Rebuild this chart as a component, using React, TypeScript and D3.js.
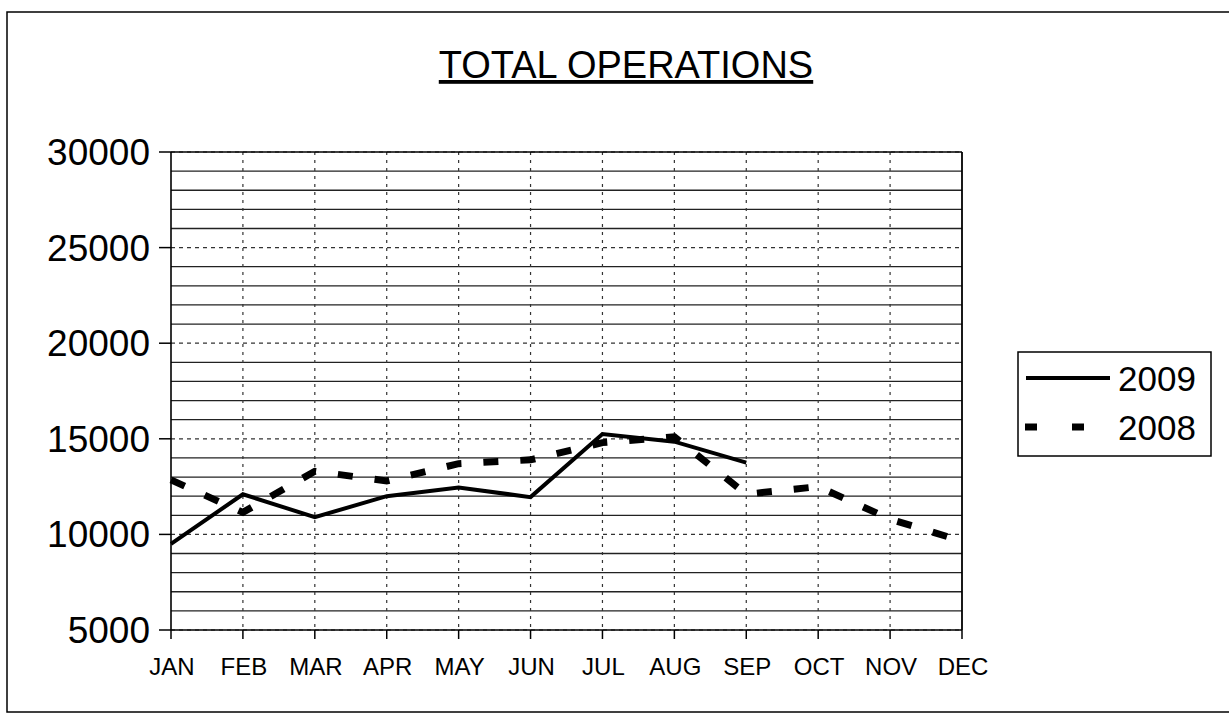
import React from "react";
import * as d3 from "d3";

const months = ["JAN", "FEB", "MAR", "APR", "MAY", "JUN", "JUL", "AUG", "SEP", "OCT", "NOV", "DEC"];
const ops2009 = [9500, 12100, 10900, 12000, 12450, 11950, 15250, 14850, 13750];
const ops2008 = [12850, 11150, 13300, 12800, 13700, 13900, 14800, 15100, 12100, 12500, 10800, 9650];
const yTicks = [5000, 10000, 15000, 20000, 25000, 30000];
const seriesNames = ["2009", "2008"];

const W = 1229;
const H = 728;
const left = 171;
const right = 962;
const top = 152;
const bottom = 630;
const font = "Liberation Sans, Arial, sans-serif";

export default function App() {
  const x = d3.scalePoint<string>().domain(months).range([left, right]);
  const y = d3.scaleLinear().domain([5000, 30000]).range([bottom, top]);
  const minor = d3.range(5000, 30001, 1000);
  const line = d3
    .line<number>()
    .x((_, i) => x(months[i]) as number)
    .y((d) => y(d));

  return (
    <svg
      width={W}
      height={H}
      style={{ position: "absolute", left: 0, top: 0, display: "block", background: "#fff" }}
    >
      <rect x={7} y={12} width={1240} height={700} fill="none" stroke="#000" strokeWidth={1.5} />
      <text
        x={626}
        y={78}
        textAnchor="middle"
        fontFamily={font}
        fontSize={38}
        textDecoration="underline"
      >
        TOTAL OPERATIONS
      </text>
      {minor.map((v) =>
        v % 5000 === 0 ? (
          <line key={v} x1={left} x2={right} y1={y(v)} y2={y(v)} stroke="#333" strokeWidth={1.2} strokeDasharray="4,4" />
        ) : (
          <line key={v} x1={left} x2={right} y1={y(v)} y2={y(v)} stroke="#222" strokeWidth={1.3} />
        )
      )}
      {months.slice(1, 11).map((m) => (
        <line key={m} x1={x(m)} x2={x(m)} y1={top} y2={bottom} stroke="#333" strokeWidth={1.2} strokeDasharray="3,5" />
      ))}
      <line x1={left} x2={right} y1={top} y2={top} stroke="#000" strokeWidth={1.6} />
      <line x1={right} x2={right} y1={top} y2={bottom} stroke="#000" strokeWidth={1.8} />
      <line x1={left} x2={left} y1={top} y2={bottom} stroke="#000" strokeWidth={1.6} />
      <line x1={left} x2={right} y1={bottom} y2={bottom} stroke="#000" strokeWidth={1.6} />
      {yTicks.map((t) => (
        <g key={t}>
          <line x1={left - 12} x2={left} y1={y(t)} y2={y(t)} stroke="#000" strokeWidth={1.5} />
          <text x={150} y={y(t) + 13} textAnchor="end" fontFamily={font} fontSize={37}>
            {t}
          </text>
        </g>
      ))}
      {months.map((m) => (
        <g key={m}>
          <line x1={x(m)} x2={x(m)} y1={bottom} y2={bottom + 9} stroke="#000" strokeWidth={1.5} />
          <text x={(x(m) as number) + 1} y={675} textAnchor="middle" fontFamily={font} fontSize={24}>
            {m}
          </text>
        </g>
      ))}
      <path d={line(ops2008) || ""} fill="none" stroke="#000" strokeWidth={7} strokeDasharray="15,22" />
      <path d={line(ops2009) || ""} fill="none" stroke="#000" strokeWidth={4} strokeLinejoin="miter" />
      <rect x={1018} y={352} width={193} height={104} fill="#fff" stroke="#000" strokeWidth={1.5} />
      <line x1={1026} x2={1110} y1={378} y2={378} stroke="#000" strokeWidth={4} />
      <text x={1118} y={391} fontFamily={font} fontSize={35}>
        {seriesNames[0]}
      </text>
      <line x1={1025} x2={1085} y1={427} y2={427} stroke="#000" strokeWidth={7} strokeDasharray="12,35" />
      <text x={1118} y={440} fontFamily={font} fontSize={35}>
        {seriesNames[1]}
      </text>
    </svg>
  );
}
